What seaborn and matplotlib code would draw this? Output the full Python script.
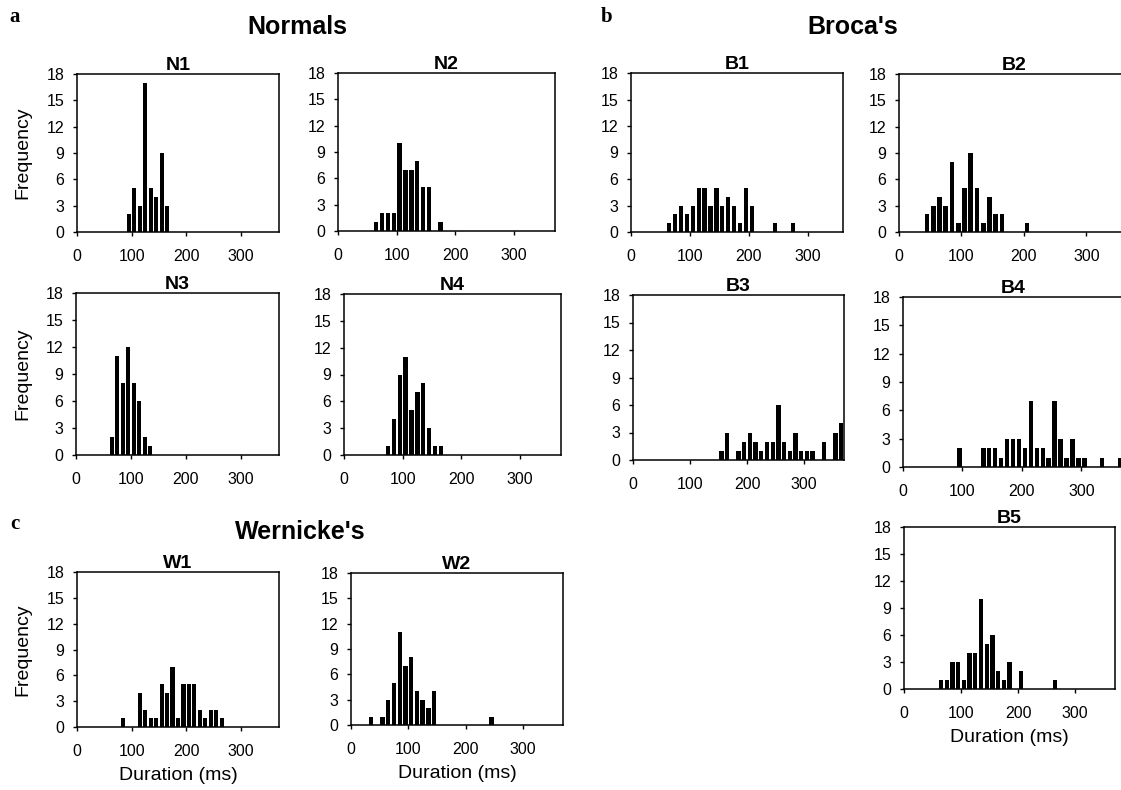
import matplotlib
matplotlib.use("Agg")
import numpy as np
import pandas as pd
import matplotlib.pyplot as plt
import seaborn as sns

# ---------------- data (bin centres in ms, counts) ----------------
n1_bins = [95, 105, 115, 125, 135, 145, 155, 165]
n1_counts = [2, 5, 3, 17, 5, 4, 9, 3]
n2_bins = [65, 75, 85, 95, 105, 115, 125, 135, 145, 155, 175]
n2_counts = [1, 2, 2, 2, 10, 7, 7, 8, 5, 5, 1]
n3_bins = [65, 75, 85, 95, 105, 115, 125, 135]
n3_counts = [2, 11, 8, 12, 8, 6, 2, 1]
n4_bins = [75, 85, 95, 105, 115, 125, 135, 145, 155, 165]
n4_counts = [1, 4, 9, 11, 5, 7, 8, 3, 1, 1]
b1_bins = [65, 75, 85, 95, 105, 115, 125, 135, 145, 155, 165, 175, 185, 195, 205, 245, 275]
b1_counts = [1, 2, 3, 2, 3, 5, 5, 3, 5, 3, 4, 3, 1, 5, 3, 1, 1]
b2_bins = [45, 55, 65, 75, 85, 95, 105, 115, 125, 135, 145, 155, 165, 205]
b2_counts = [2, 3, 4, 3, 8, 1, 5, 9, 5, 1, 4, 2, 2, 1]
b3_bins = [155, 165, 185, 195, 205, 215, 225, 235, 245, 255, 265, 275, 285, 295, 305, 315, 335, 355, 365]
b3_counts = [1, 3, 1, 2, 3, 2, 1, 2, 2, 6, 2, 1, 3, 1, 1, 1, 2, 3, 4]
b4_bins = [95, 135, 145, 155, 165, 175, 185, 195, 205, 215, 225, 235, 245, 255, 265, 275, 285, 295, 305, 335, 365]
b4_counts = [2, 2, 2, 2, 1, 3, 3, 3, 2, 7, 2, 2, 1, 7, 3, 1, 3, 1, 1, 1, 1]
b5_bins = [65, 75, 85, 95, 105, 115, 125, 135, 145, 155, 165, 175, 185, 205, 265]
b5_counts = [1, 1, 3, 3, 1, 4, 4, 10, 5, 6, 2, 1, 3, 2, 1]
w1_bins = [85, 115, 125, 135, 145, 155, 165, 175, 185, 195, 205, 215, 225, 235, 245, 255, 265]
w1_counts = [1, 4, 2, 1, 1, 5, 4, 7, 1, 5, 5, 5, 2, 1, 2, 2, 1]
w2_bins = [35, 55, 65, 75, 85, 95, 105, 115, 125, 135, 145, 245]
w2_counts = [1, 1, 3, 5, 11, 7, 8, 4, 3, 2, 4, 1]

y_ticks = [0, 3, 6, 9, 12, 15, 18]
x_ticks = [0, 100, 200, 300]

sns.set_theme(style="ticks")
plt.rcParams["font.family"] = ["Liberation Sans", "DejaVu Sans"]
plt.rcParams["text.color"] = "black"
plt.rcParams["axes.labelcolor"] = "black"

W, H = 1121, 790
fig = plt.figure(figsize=(W / 100, H / 100), dpi=100)


def add_ax(l, t, r, b):
    return fig.add_axes([l / W, 1 - b / H, (r - l) / W, (b - t) / H])


# name, data, (left, top, right, bottom) px, xmax, ylabel, xlabel
panels = [
    ("N1", n1_bins, n1_counts, (77, 74, 279, 232), 370, True, False),
    ("N2", n2_bins, n2_counts, (338, 73, 555, 231), 370, False, False),
    ("N3", n3_bins, n3_counts, (76, 293, 279, 455), 370, True, False),
    ("N4", n4_bins, n4_counts, (344, 294, 561, 455), 370, False, False),
    ("B1", b1_bins, b1_counts, (631, 73, 843, 232), 360, False, False),
    ("B2", b2_bins, b2_counts, (899, 74, 1130, 232), 370, False, False),
    ("B3", b3_bins, b3_counts, (633, 295, 844, 460), 370, False, False),
    ("B4", b4_bins, b4_counts, (903, 297, 1123, 467), 370, False, False),
    ("B5", b5_bins, b5_counts, (904, 527, 1115, 689), 370, False, True),
    ("W1", w1_bins, w1_counts, (77, 572, 279, 727), 370, True, True),
    ("W2", w2_bins, w2_counts, (351, 573, 563, 725), 370, False, True),
]

for name, bins, counts, rect, xmax, ylab, xlab in panels:
    ax = add_ax(*rect)
    l, t, r, b = rect
    df = pd.DataFrame({"duration": bins, "count": counts})
    sns.barplot(data=df, x="duration", y="count", native_scale=True,
                orient="x", width=0.75, color="black", saturation=1,
                errorbar=None, linewidth=0, ax=ax)
    ax.set_xlim(0, xmax)
    ax.set_ylim(0, 18)
    ax.set_yticks(y_ticks)
    ax.set_xticks(x_ticks)
    ax.set_xticklabels([str(v) for v in x_ticks])
    ax.tick_params(axis="both", direction="out", length=3, width=1,
                   labelsize=11.5, colors="black", bottom=True, left=True)
    ax.tick_params(axis="x", pad=9)
    ax.tick_params(axis="y", pad=6)
    for sp in ax.spines.values():
        sp.set_visible(True)
        sp.set_color("black")
        sp.set_linewidth(1.1)
    ax.set_title(name, fontsize=14, fontweight="bold", pad=1.5)
    if ylab:
        ax.set_ylabel("Frequency", fontsize=14)
        ax.yaxis.set_label_coords(-(l - 23) / (r - l), 0.5)
        ax.yaxis.label.set_va("center")
    else:
        ax.set_ylabel("")
    if xlab:
        ax.set_xlabel("Duration (ms)", fontsize=14)
        ax.xaxis.set_label_coords(0.5, -48 / (b - t))
        ax.xaxis.label.set_va("center")
    else:
        ax.set_xlabel("")

# group headings
fig.text(297 / W, 1 - 27 / H, "Normals", ha="center", va="center",
         fontsize=18, fontweight="bold")
fig.text(853 / W, 1 - 27 / H, "Broca's", ha="center", va="center",
         fontsize=18, fontweight="bold")
fig.text(300 / W, 1 - 532 / H, "Wernicke's", ha="center", va="center",
         fontsize=18, fontweight="bold")
for lab, x, y in [("a", 15, 17), ("b", 607, 17), ("c", 15, 524)]:
    fig.text(x / W, 1 - y / H, lab, ha="center", va="center", fontsize=15,
             fontweight="bold", family=["Liberation Serif", "DejaVu Serif"])

fig.savefig("out.png", dpi=100, facecolor="white")
